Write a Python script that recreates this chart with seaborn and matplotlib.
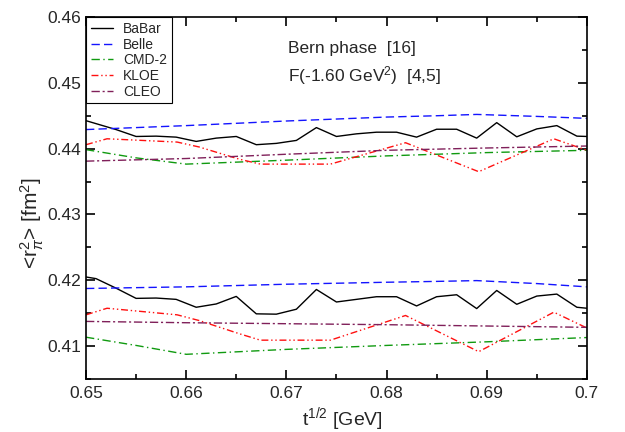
"""
Pion charge radius <r_pi^2> vs t^(1/2) for the Bern phase, one band per
experiment (upper and lower curves), recreated with seaborn.
"""

import numpy as np
import pandas as pd

import matplotlib

matplotlib.use("Agg")
import matplotlib.pyplot as plt
from matplotlib.ticker import FuncFormatter, MultipleLocator
import seaborn as sns

EXPERIMENTS = ["BaBar", "Belle", "CMD-2", "KLOE", "CLEO"]

# BaBar: jagged curves on a 0.002 grid
babar_x = [0.650, 0.651, 0.653, 0.655, 0.657, 0.659, 0.661, 0.663, 0.665,
           0.667, 0.669, 0.671, 0.673, 0.675, 0.677, 0.679, 0.681, 0.683,
           0.685, 0.687, 0.689, 0.691, 0.693, 0.695, 0.697, 0.699, 0.700]
babar_hi = [0.44425, 0.4438, 0.4429, 0.44185, 0.4419, 0.44175, 0.4411,
            0.4416, 0.44185, 0.4406, 0.4408, 0.44125, 0.4432, 0.44185,
            0.44225, 0.4425, 0.4425, 0.44175, 0.44295, 0.44295, 0.4416,
            0.44395, 0.4418, 0.443, 0.4435, 0.4419, 0.44185]
babar_lo = [0.4205, 0.42025, 0.4188, 0.41725, 0.4173, 0.4171, 0.4159,
            0.4164, 0.41755, 0.4149, 0.41485, 0.4156, 0.4186, 0.4167,
            0.4171, 0.4175, 0.4175, 0.4161, 0.4175, 0.4178, 0.4157,
            0.41845, 0.41635, 0.4176, 0.4179, 0.4159, 0.41575]

# Belle
belle_x = [0.650, 0.655, 0.660, 0.665, 0.670, 0.675, 0.680, 0.685, 0.689,
           0.695, 0.700]
belle_hi = [0.4429, 0.4432, 0.4435, 0.44385, 0.4442, 0.4445, 0.4448,
            0.4450, 0.4452, 0.4449, 0.4446]
belle_lo = [0.41875, 0.41888, 0.4190, 0.4192, 0.4194, 0.41955, 0.4197,
            0.41983, 0.41995, 0.4195, 0.4190]

# CMD-2
cmd_x = [0.650, 0.655, 0.660, 0.670, 0.680, 0.690, 0.700]
cmd_hi = [0.43985, 0.4386, 0.43765, 0.43825, 0.4389, 0.4394, 0.43975]
cmd_lo = [0.41135, 0.4101, 0.40875, 0.4095, 0.4101, 0.41065, 0.4113]

# KLOE
kloe_x = [0.650, 0.6521, 0.6591, 0.6613, 0.6653, 0.6674, 0.6744, 0.6819,
          0.6892, 0.6967, 0.700]
kloe_hi = [0.4406, 0.4415, 0.4410, 0.44025, 0.4384, 0.43765, 0.43765,
           0.4409, 0.4365, 0.4415, 0.43975]
kloe_lo = [0.41475, 0.41575, 0.41475, 0.41388, 0.41188, 0.4109, 0.4109,
           0.41465, 0.40915, 0.41515, 0.41275]

# CLEO
cleo_x = [0.650, 0.660, 0.670, 0.680, 0.690, 0.700]
cleo_hi = [0.4381, 0.4385, 0.43915, 0.43975, 0.4401, 0.4404]
cleo_lo = [0.41375, 0.41355, 0.4134, 0.41325, 0.41305, 0.41285]

CURVES = {
    "BaBar": (babar_x, babar_hi, babar_lo),
    "Belle": (belle_x, belle_hi, belle_lo),
    "CMD-2": (cmd_x, cmd_hi, cmd_lo),
    "KLOE": (kloe_x, kloe_hi, kloe_lo),
    "CLEO": (cleo_x, cleo_hi, cleo_lo),
}

PALETTE = {
    "BaBar": "#000000",
    "Belle": "#1414ff",
    "CMD-2": "#109a10",
    "KLOE": "#ff1010",
    "CLEO": "#80205a",
}
DASHES = {
    "BaBar": "",
    "Belle": (6, 3),
    "CMD-2": (6, 2.5, 1, 2.5),
    "KLOE": (5, 2, 1, 2, 1, 2),
    "CLEO": (6, 2, 1.5, 2),
}


def build_frame():
    rows = []
    for name in EXPERIMENTS:
        xs, hi, lo = CURVES[name]
        for band, ys in (("upper", hi), ("lower", lo)):
            for x, y in zip(xs, ys):
                rows.append({"t": x, "r2": y, "exp": name, "band": band})
    return pd.DataFrame(rows)


def tick_fmt(v, _):
    s = f"{v:.2f}"
    return "0.7" if s == "0.70" else s


df = build_frame()

sns.set_style("ticks")
plt.rcParams["font.family"] = ["Liberation Sans", "DejaVu Sans"]
plt.rcParams["mathtext.fontset"] = "custom"
plt.rcParams["mathtext.rm"] = "Liberation Sans"
plt.rcParams["mathtext.it"] = "Liberation Sans:italic"

fig = plt.figure(figsize=(6.25, 4.32), dpi=100)
ax = fig.add_axes([0.1376, 0.1227, 0.8014, 0.8379])

sns.lineplot(
    data=df, x="t", y="r2", hue="exp", style="exp", units="band",
    estimator=None, sort=False, palette=PALETTE, dashes=DASHES,
    hue_order=EXPERIMENTS, style_order=EXPERIMENTS, linewidth=1.0, ax=ax,
)

ax.set_xlim(0.65, 0.70)
ax.set_ylim(0.405, 0.46)
ax.xaxis.set_major_locator(MultipleLocator(0.01))
ax.xaxis.set_minor_locator(MultipleLocator(0.005))
ax.yaxis.set_major_locator(MultipleLocator(0.01))
ax.yaxis.set_minor_locator(MultipleLocator(0.005))
ax.xaxis.set_major_formatter(FuncFormatter(tick_fmt))
ax.yaxis.set_major_formatter(FuncFormatter(tick_fmt))
ax.tick_params(which="both", direction="in", top=True, right=True,
               labelsize=12.5, width=1.2, color="black")
ax.tick_params(which="major", length=6.5)
ax.tick_params(which="minor", length=3.5)
ax.tick_params(axis="x", pad=5)
for s in ax.spines.values():
    s.set_linewidth(1.2)
    s.set_color("black")

ax.set_xlabel(r"t$^{1/2}$ [GeV]", fontsize=14)
ax.set_ylabel(r"<r$_{\pi}^{2}$> [fm$^{2}$]", fontsize=15)
ax.xaxis.set_label_coords(0.513, -0.11)
ax.yaxis.set_label_coords(-0.108, 0.43)
ax.xaxis.label.set_va("center")
ax.yaxis.label.set_va("center")

ax.text(0.403, 0.90, "Bern phase  [16]", transform=ax.transAxes,
        fontsize=12.5, ha="left", va="baseline")
ax.text(0.403, 0.821, r"F(-1.60 GeV$^{2}$)  [4,5]", transform=ax.transAxes,
        fontsize=12.5, ha="left", va="baseline")

leg = ax.legend(loc="upper left", borderaxespad=0, fontsize=10,
                handlelength=1.6, handletextpad=0.7, labelspacing=0.12,
                borderpad=0.35, fancybox=False, framealpha=1)
leg.get_frame().set_edgecolor("black")
leg.get_frame().set_linewidth(0.8)

fig.savefig("out.png", dpi=100)
